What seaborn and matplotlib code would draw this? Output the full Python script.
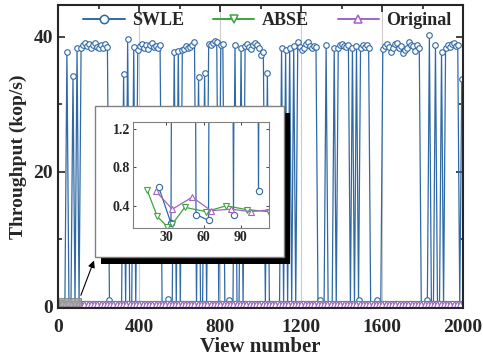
#%% libraries
import numpy as np
import matplotlib
matplotlib.use('Agg')
import matplotlib.pyplot as plt
import seaborn as sns
from matplotlib.patches import Rectangle

#%% data
# SWLE: one sample every 10 views, starting at view 24
swle_start = 24
swle_step = 10
swle = [0.60, 0.22, 37.8, 0.31, 0.25, 34.2, 0.31, 38.3, 0.55, 38.3,
        38.8, 39.0, 38.6, 38.9, 38.4, 38.7, 39.1, 38.5, 38.3, 38.7,
        38.4, 38.9, 38.5, 1.0, 0.3, 0.4, 0.3, 0.3, 0.3, 0.4,
        34.5, 0.3, 39.6, 0.3, 0.4, 38.5, 0.3, 38.1, 38.6, 38.9,
        38.4, 38.7, 38.2, 38.8, 39.1, 38.5, 38.6, 38.3, 38.7, 0.3,
        0.4, 0.3, 1.1, 0.3, 0.3, 37.8, 0.4, 37.9, 0.3, 38.1,
        38.2, 38.6, 38.3, 38.5, 38.8, 39.2, 0.4, 34.1, 0.3, 0.3,
        34.6, 0.3, 38.9, 38.7, 39.0, 39.3, 39.2, 0.3, 38.8, 38.9,
        0.4, 0.3, 1.0, 0.3, 0.4, 38.7, 0.3, 0.3, 38.4, 0.3,
        38.6, 38.9, 38.5, 38.2, 38.8, 39.0, 38.7, 38.4, 37.3, 37.8,
        0.3, 34.6, 0.3, 0.4, 0.3, 0.3, 0.3, 0.4, 38.3, 0.3,
        38.0, 0.3, 38.4, 0.3, 38.6, 0.3, 39.2, 38.5, 38.0, 38.4,
        38.9, 39.2, 38.6, 38.4, 38.6, 38.5, 0.3, 1.0, 0.4, 0.3,
        38.7, 0.3, 0.3, 0.4, 38.3, 0.3, 38.4, 38.7, 38.9, 38.6,
        38.5, 38.8, 0.3, 38.4, 0.3, 38.6, 1.0, 38.4, 38.8, 38.5,
        38.7, 38.4, 0.3, 0.4, 0.3, 1.0, 0.3, 0.4, 38.2, 38.6,
        38.9, 38.5, 37.8, 38.4, 38.9, 39.0, 38.3, 38.6, 37.6, 38.1,
        38.4, 39.2, 38.7, 38.6, 37.9, 38.8, 38.4, 0.3, 0.4, 0.3,
        1.0, 40.2, 0.3, 0.4, 38.7, 0.3, 0.3, 37.8, 0.3, 38.3,
        38.7, 38.5, 38.9, 39.1, 38.6, 38.8, 0.3, 33.8]

# ABSE: first points as read in the zoom box, then one every 16 views
abse_head_x = [15, 23, 31, 35, 45, 62, 78, 95]
abse_head = [0.56, 0.29, 0.185, 0.21, 0.385, 0.34, 0.40, 0.36]
abse_tail_start = 112
abse_tail = [0.34,0.35,0.36,0.34,0.35,0.37,0.35,0.34,0.36,0.35,0.34,0.36,0.35,0.37,0.34,0.35,0.36,
             0.35,0.34,0.36,0.35,0.35,0.37,0.34,0.36,0.35,0.34,0.35,0.36,0.34,0.35,0.37,0.35,0.34,
             0.36,0.35,0.34,0.35,0.36,0.35,0.34,0.36,0.37,0.35,0.34,0.35,0.36,0.35,0.34,0.35,0.36,
             0.34,0.35,0.37,0.35,0.34,0.36,0.35,0.35,0.34,0.36,0.35,0.37,0.34,0.35,0.36,0.35,0.34,
             0.35,0.36,0.34,0.35,0.37,0.35,0.34,0.36,0.35,0.34,0.35,0.36,0.35,0.34,0.36,0.37,0.35,
             0.34,0.35,0.36,0.35,0.34,0.35,0.36,0.34,0.35,0.37,0.35,0.34,0.36,0.35,0.35,0.34,0.36,
             0.35,0.37,0.34,0.35,0.36,0.35,0.34,0.35,0.36,0.34,0.35,0.37,0.35,0.34,0.36,0.35,0.34]

# Original
orig_head_x = [22, 35, 51, 66, 82, 98]
orig_head = [0.55, 0.365, 0.49, 0.35, 0.365, 0.34]
orig_tail_start = 114
orig_tail = [0.36,0.35,0.34,0.36,0.35,0.37,0.34,0.35,0.36,0.35,0.34,0.36,0.35,0.35,0.37,0.34,0.36,
             0.35,0.34,0.35,0.36,0.34,0.35,0.37,0.35,0.34,0.36,0.35,0.34,0.35,0.36,0.35,0.34,0.36,
             0.37,0.35,0.34,0.35,0.36,0.35,0.34,0.35,0.36,0.34,0.35,0.37,0.35,0.34,0.36,0.35,0.35,
             0.34,0.36,0.35,0.37,0.34,0.35,0.36,0.35,0.34,0.35,0.36,0.34,0.35,0.37,0.35,0.34,0.36,
             0.35,0.34,0.35,0.36,0.35,0.34,0.36,0.37,0.35,0.34,0.35,0.36,0.35,0.34,0.35,0.36,0.34,
             0.35,0.37,0.35,0.34,0.36,0.35,0.35,0.34,0.36,0.35,0.37,0.34,0.35,0.36,0.35,0.34,0.35,
             0.36,0.34,0.35,0.37,0.35,0.34,0.36,0.35,0.34,0.35,0.36,0.35,0.34,0.36,0.37,0.35]

x_swle = swle_start + swle_step * np.arange(len(swle))
x_abse = np.concatenate([abse_head_x, abse_tail_start + 16 * np.arange(len(abse_tail))])
y_abse = np.array(abse_head + abse_tail)
x_orig = np.concatenate([orig_head_x, orig_tail_start + 16 * np.arange(len(orig_tail))])
y_orig = np.array(orig_head + orig_tail)

c_swle = '#2f69a6'
c_abse = '#3ca53c'
c_orig = '#a064c4'

#%% style
sns.set_style('ticks')
plt.rcParams['font.family'] = ['Liberation Serif', 'DejaVu Serif']
plt.rcParams['font.weight'] = 'bold'
plt.rcParams['axes.labelweight'] = 'bold'
plt.rcParams['xtick.direction'] = 'in'
plt.rcParams['ytick.direction'] = 'in'

fig = plt.figure(figsize=(4.83, 3.63), dpi=100)
ax = fig.add_axes([58/483, 1 - 308/363, 405/483, 303/363])


def draw_series(a, lw, ms):
    sns.lineplot(x=x_swle, y=swle, ax=a, color=c_swle, lw=lw, marker='o', ms=ms,
                 markerfacecolor='white', markeredgecolor=c_swle, markeredgewidth=0.8,
                 label='SWLE', estimator=None, sort=False)
    sns.lineplot(x=x_abse, y=y_abse, ax=a, color=c_abse, lw=lw, marker='v', ms=ms,
                 markerfacecolor='white', markeredgecolor=c_abse, markeredgewidth=0.8,
                 label='ABSE', estimator=None, sort=False)
    sns.lineplot(x=x_orig, y=y_orig, ax=a, color=c_orig, lw=lw, marker='^', ms=ms,
                 markerfacecolor='white', markeredgecolor=c_orig, markeredgewidth=0.8,
                 label='Original', estimator=None, sort=False)


draw_series(ax, 0.9, 4)
ax.set_xlim(0, 2000)
ax.set_ylim(-0.2, 44.7)
ax.set_xticks([0, 400, 800, 1200, 1600, 2000])
ax.set_xticks(np.arange(200, 2000, 400), minor=True)
ax.set_yticks([0, 20, 40])
ax.set_yticks([10, 30], minor=True)
ax.tick_params(which='both', top=True, right=True, labelsize=14, width=1.2)
ax.tick_params(which='major', length=5)
ax.tick_params(which='minor', length=3)
ax.tick_params(axis='x', which='major', pad=8)
ax.grid(axis='x', which='major', color='#cccccc', lw=0.8)
for s in ax.spines.values():
    s.set_linewidth(1.5)
ax.set_xlabel('View number', fontsize=15, labelpad=1)
ax.set_ylabel('Throughput (kop/s)', fontsize=14, labelpad=5)

leg = ax.legend(loc='upper right', bbox_to_anchor=(0.985, 0.995), ncol=3, fontsize=13,
                frameon=True, framealpha=0, edgecolor='#d0d0d0', fancybox=False,
                handlelength=2.3, columnspacing=1.6, handletextpad=0.4,
                borderpad=0.3, borderaxespad=0)
leg.get_frame().set_linewidth(0.8)
for h in leg.get_lines():
    h.set_linewidth(1.4)
    h.set_markersize(6)
    h.set_markeredgewidth(1.1)

# zoomed region marker
ax.add_patch(Rectangle((4, 0.17), 108, 1.1, facecolor='#a0a0a0', edgecolor='#808080',
                       alpha=0.8, lw=0.8, zorder=5))
ax.annotate('', xy=(95/483, 1 - 258/363), xycoords='figure fraction',
            xytext=(108, 1.3), textcoords='data',
            arrowprops=dict(arrowstyle='-|>', color='black', lw=0.8, mutation_scale=10),
            zorder=6)

# inset box with shadow
fig.patches.append(Rectangle((101/483, 1 - 264/363), 189/483, 151/363,
                             transform=fig.transFigure, facecolor='black',
                             edgecolor='none', zorder=1))
fig.patches.append(Rectangle((95/483, 1 - 257/363), 189/483, 151/363,
                             transform=fig.transFigure, facecolor='white',
                             edgecolor='#808080', lw=1, zorder=1.5))

axin = fig.add_axes([133/483, 1 - 228/363, 136/483, 106/363], zorder=2)
draw_series(axin, 0.9, 4.5)
axin.get_legend().remove()
axin.set_xlim(3.6, 112.4)
axin.set_ylim(0.17, 1.27)
axin.set_xticks([30, 60, 90])
axin.set_yticks([0.4, 0.8, 1.2])
axin.tick_params(which='both', top=True, right=True, labelsize=10, length=2.5,
                 width=0.6, pad=2)
for s in axin.spines.values():
    s.set_color('#808080')
    s.set_linewidth(0.8)

fig.savefig('out.png', dpi=100)
